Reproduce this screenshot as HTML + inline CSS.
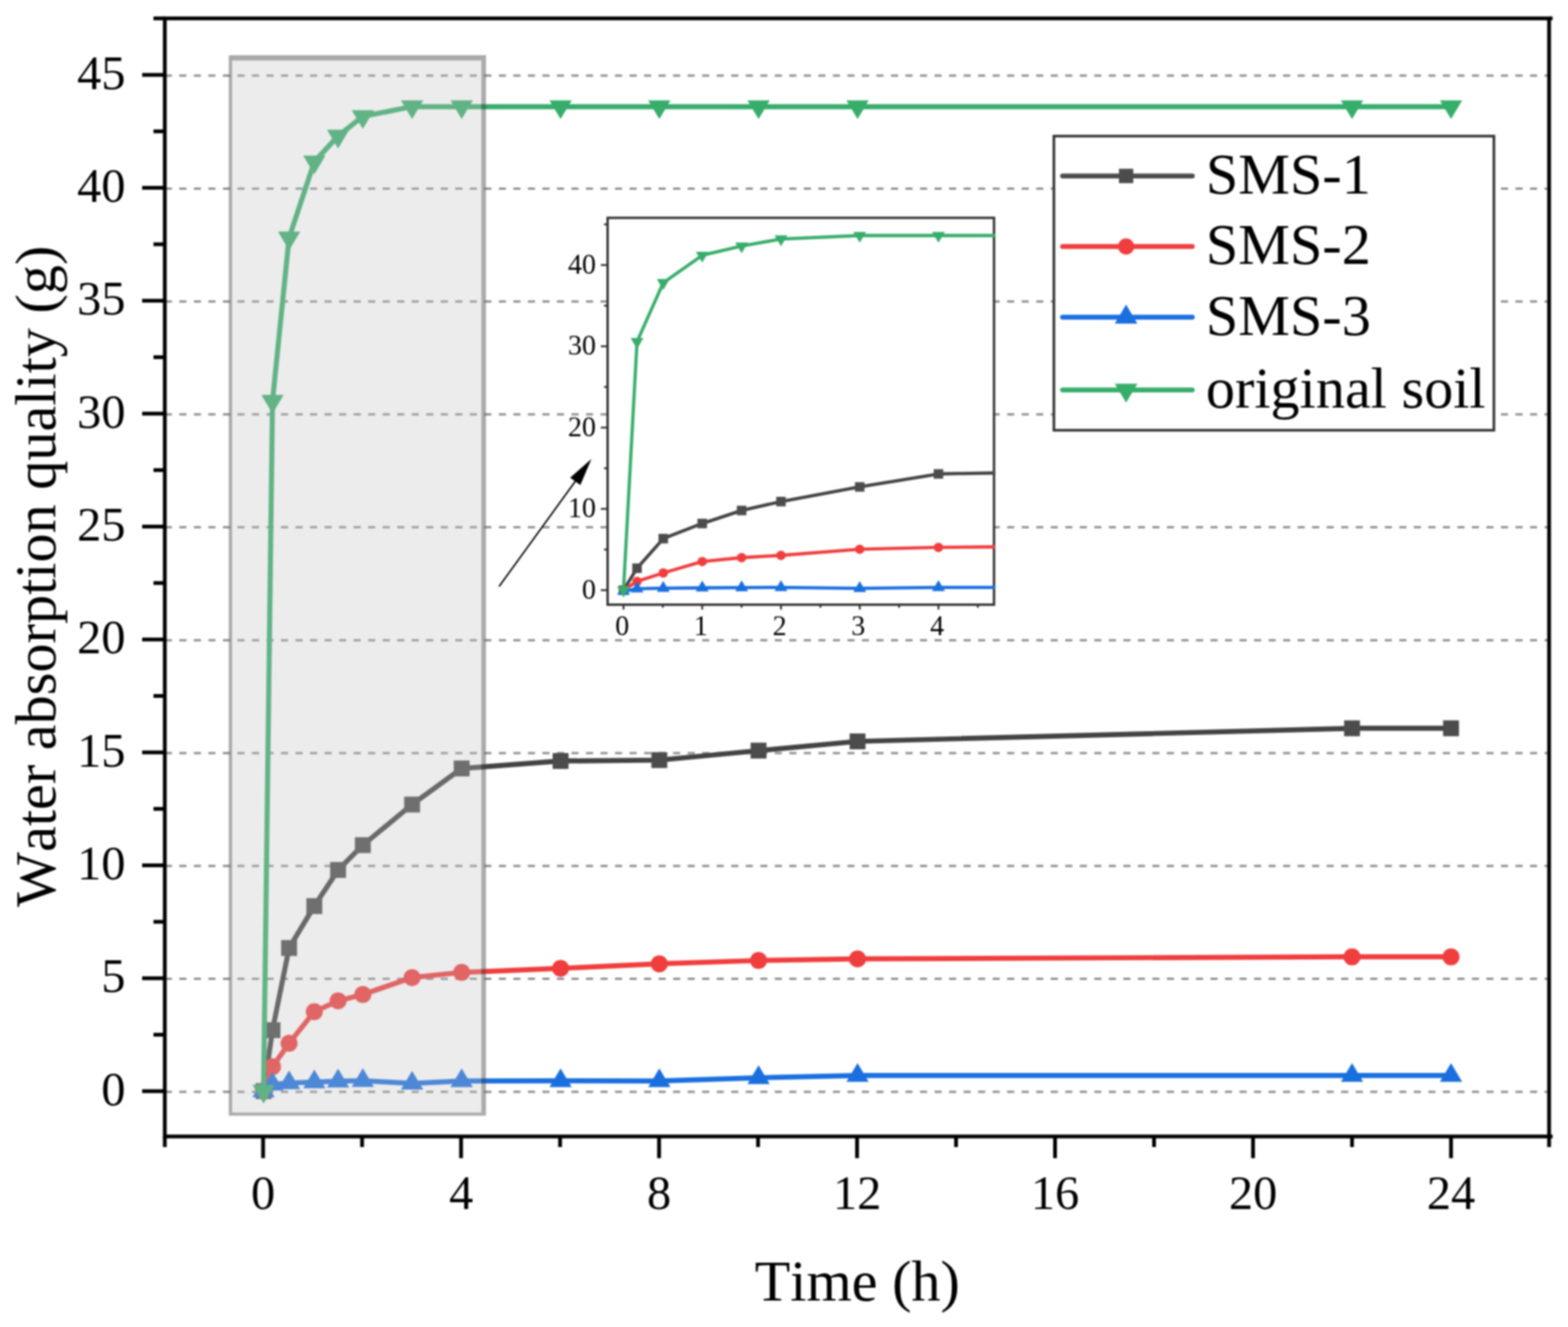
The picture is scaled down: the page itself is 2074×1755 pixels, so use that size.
<!DOCTYPE html>
<html lang="en"><head><meta charset="utf-8"><title>Water absorption quality</title>
<style>html,body{margin:0;padding:0;background:#fff;}body{width:2074px;height:1755px;overflow:hidden;}svg{display:block;filter:blur(0.9px);}text{font-family:"Liberation Serif",serif;fill:#000;font-kerning:none;}</style>
</head><body>
<svg width="2074" height="1755" viewBox="0 0 2074 1755">
<rect width="2074" height="1755" fill="#fff"/>
<defs><clipPath id="inclip"><rect x="803.7" y="288.1" width="512.65" height="511.6"/></clipPath></defs>
<g stroke="#8f8f8f" stroke-width="3" stroke-dasharray="9.4 9.81" fill="none">
<line x1="218" y1="1443.9" x2="2049" y2="1443.9"/>
<line x1="218" y1="1294.59" x2="2049" y2="1294.59"/>
<line x1="218" y1="1145.28" x2="2049" y2="1145.28"/>
<line x1="218" y1="995.97" x2="2049" y2="995.97"/>
<line x1="218" y1="846.66" x2="2049" y2="846.66"/>
<line x1="218" y1="697.35" x2="2049" y2="697.35"/>
<line x1="218" y1="548.04" x2="2049" y2="548.04"/>
<line x1="218" y1="398.73" x2="2049" y2="398.73"/>
<line x1="218" y1="249.42" x2="2049" y2="249.42"/>
<line x1="218" y1="100.11" x2="2049" y2="100.11"/>
</g>
<g>
<polyline fill="none" stroke="#434343" stroke-width="6.7" stroke-linejoin="round" stroke-linecap="round" points="348.65,1443 360.44,1362.43 382.37,1253.81 415.76,1198.31 447.19,1150.57 479.92,1117.74 545.06,1064.03 610.67,1016.29 741.47,1006.44 872.09,1005.25 1003.35,992.71 1134.29,980.48 1788.34,963.17 1919.28,963.17"/><rect x="338.15" y="1432.5" width="21" height="21" fill="#4c4c4c"/><rect x="349.94" y="1351.93" width="21" height="21" fill="#4c4c4c"/><rect x="371.87" y="1243.31" width="21" height="21" fill="#4c4c4c"/><rect x="405.26" y="1187.81" width="21" height="21" fill="#4c4c4c"/><rect x="436.69" y="1140.07" width="21" height="21" fill="#4c4c4c"/><rect x="469.42" y="1107.24" width="21" height="21" fill="#4c4c4c"/><rect x="534.56" y="1053.53" width="21" height="21" fill="#4c4c4c"/><rect x="600.17" y="1005.79" width="21" height="21" fill="#4c4c4c"/><rect x="730.97" y="995.94" width="21" height="21" fill="#4c4c4c"/><rect x="861.59" y="994.75" width="21" height="21" fill="#4c4c4c"/><rect x="992.85" y="982.21" width="21" height="21" fill="#4c4c4c"/><rect x="1123.79" y="969.98" width="21" height="21" fill="#4c4c4c"/><rect x="1777.84" y="952.67" width="21" height="21" fill="#4c4c4c"/><rect x="1908.78" y="952.67" width="21" height="21" fill="#4c4c4c"/>
<polyline fill="none" stroke="#f03d3d" stroke-width="6.7" stroke-linejoin="round" stroke-linecap="round" points="348.65,1443 360.44,1410.77 382.37,1379.74 415.76,1337.96 447.19,1323.64 479.92,1315.28 545.06,1292.9 610.67,1286.04 741.47,1280.67 872.09,1274.7 1003.35,1270.23 1134.29,1268.14 1788.34,1265.45 1919.28,1265.45"/><circle cx="348.65" cy="1443" r="11.25" fill="#f03d3d"/><circle cx="360.44" cy="1410.77" r="11.25" fill="#f03d3d"/><circle cx="382.37" cy="1379.74" r="11.25" fill="#f03d3d"/><circle cx="415.76" cy="1337.96" r="11.25" fill="#f03d3d"/><circle cx="447.19" cy="1323.64" r="11.25" fill="#f03d3d"/><circle cx="479.92" cy="1315.28" r="11.25" fill="#f03d3d"/><circle cx="545.06" cy="1292.9" r="11.25" fill="#f03d3d"/><circle cx="610.67" cy="1286.04" r="11.25" fill="#f03d3d"/><circle cx="741.47" cy="1280.67" r="11.25" fill="#f03d3d"/><circle cx="872.09" cy="1274.7" r="11.25" fill="#f03d3d"/><circle cx="1003.35" cy="1270.23" r="11.25" fill="#f03d3d"/><circle cx="1134.29" cy="1268.14" r="11.25" fill="#f03d3d"/><circle cx="1788.34" cy="1265.45" r="11.25" fill="#f03d3d"/><circle cx="1919.28" cy="1265.45" r="11.25" fill="#f03d3d"/>
<polyline fill="none" stroke="#1a6fdf" stroke-width="6.7" stroke-linejoin="round" stroke-linecap="round" points="348.65,1443 360.44,1434.05 382.37,1432.26 415.76,1431.06 447.19,1429.87 479.92,1429.27 545.06,1432.85 610.67,1429.57 741.47,1429.42 872.09,1429.57 1003.35,1425.39 1134.29,1422.41 1788.34,1422.41 1919.28,1422.41"/><polygon points="333.9,1451.26 363.4,1451.26 348.65,1426.48" fill="#1a6fdf"/><polygon points="345.69,1442.31 375.19,1442.31 360.44,1417.53" fill="#1a6fdf"/><polygon points="367.62,1440.52 397.12,1440.52 382.37,1415.74" fill="#1a6fdf"/><polygon points="401.01,1439.32 430.51,1439.32 415.76,1414.54" fill="#1a6fdf"/><polygon points="432.44,1438.13 461.94,1438.13 447.19,1413.35" fill="#1a6fdf"/><polygon points="465.17,1437.53 494.67,1437.53 479.92,1412.75" fill="#1a6fdf"/><polygon points="530.31,1441.11 559.81,1441.11 545.06,1416.33" fill="#1a6fdf"/><polygon points="595.92,1437.83 625.42,1437.83 610.67,1413.05" fill="#1a6fdf"/><polygon points="726.72,1437.68 756.22,1437.68 741.47,1412.9" fill="#1a6fdf"/><polygon points="857.34,1437.83 886.84,1437.83 872.09,1413.05" fill="#1a6fdf"/><polygon points="988.6,1433.65 1018.1,1433.65 1003.35,1408.87" fill="#1a6fdf"/><polygon points="1119.54,1430.67 1149.04,1430.67 1134.29,1405.89" fill="#1a6fdf"/><polygon points="1773.59,1430.67 1803.09,1430.67 1788.34,1405.89" fill="#1a6fdf"/><polygon points="1904.53,1430.67 1934.03,1430.67 1919.28,1405.89" fill="#1a6fdf"/>
<polyline fill="none" stroke="#37ad6b" stroke-width="6.7" stroke-linejoin="round" stroke-linecap="round" points="348.65,1443 360.44,530.49 382.37,314.45 415.76,213.89 447.19,179.87 479.92,153.91 545.06,141.08 610.67,141.08 741.47,141.08 872.09,141.08 1003.35,141.08 1134.29,141.08 1788.34,141.08 1919.28,141.08"/><polygon points="333.9,1434.74 363.4,1434.74 348.65,1459.52" fill="#37ad6b"/><polygon points="345.69,522.23 375.19,522.23 360.44,547.01" fill="#37ad6b"/><polygon points="367.62,306.19 397.12,306.19 382.37,330.97" fill="#37ad6b"/><polygon points="401.01,205.63 430.51,205.63 415.76,230.41" fill="#37ad6b"/><polygon points="432.44,171.61 461.94,171.61 447.19,196.39" fill="#37ad6b"/><polygon points="465.17,145.65 494.67,145.65 479.92,170.43" fill="#37ad6b"/><polygon points="530.31,132.82 559.81,132.82 545.06,157.6" fill="#37ad6b"/><polygon points="595.92,132.82 625.42,132.82 610.67,157.6" fill="#37ad6b"/><polygon points="726.72,132.82 756.22,132.82 741.47,157.6" fill="#37ad6b"/><polygon points="857.34,132.82 886.84,132.82 872.09,157.6" fill="#37ad6b"/><polygon points="988.6,132.82 1018.1,132.82 1003.35,157.6" fill="#37ad6b"/><polygon points="1119.54,132.82 1149.04,132.82 1134.29,157.6" fill="#37ad6b"/><polygon points="1773.59,132.82 1803.09,132.82 1788.34,157.6" fill="#37ad6b"/><polygon points="1904.53,132.82 1934.03,132.82 1919.28,157.6" fill="#37ad6b"/>
</g>
<g>
<rect x="307" y="80" width="329.7" height="1391.4" fill="rgb(193,193,193)" fill-opacity="0.305"/>
<rect x="302.6" y="73" width="340.2" height="7" fill="rgb(70,70,70)" fill-opacity="0.46"/>
<rect x="302.6" y="1471.4" width="340.2" height="4.1" fill="rgb(70,70,70)" fill-opacity="0.46"/>
<rect x="302.6" y="80" width="4.4" height="1391.4" fill="rgb(70,70,70)" fill-opacity="0.46"/>
<rect x="636.7" y="80" width="6.1" height="1391.4" fill="rgb(70,70,70)" fill-opacity="0.46"/>
</g>
<g stroke="#000" stroke-width="5" fill="none" stroke-linecap="butt">
<rect x="218" y="24.3" width="1831" height="1478.7"/>
<line x1="2049" y1="24.3" x2="2053.6" y2="24.3"/>
<line x1="2049" y1="1503" x2="2053.6" y2="1503"/>
<line x1="188" y1="1443.1" x2="218" y2="1443.1"/>
<line x1="188" y1="1293.76" x2="218" y2="1293.76"/>
<line x1="188" y1="1144.42" x2="218" y2="1144.42"/>
<line x1="188" y1="995.08" x2="218" y2="995.08"/>
<line x1="188" y1="845.74" x2="218" y2="845.74"/>
<line x1="188" y1="696.4" x2="218" y2="696.4"/>
<line x1="188" y1="547.06" x2="218" y2="547.06"/>
<line x1="188" y1="397.72" x2="218" y2="397.72"/>
<line x1="188" y1="248.38" x2="218" y2="248.38"/>
<line x1="188" y1="99.04" x2="218" y2="99.04"/>
<line x1="203" y1="1368.43" x2="218" y2="1368.43"/>
<line x1="203" y1="1219.09" x2="218" y2="1219.09"/>
<line x1="203" y1="1069.75" x2="218" y2="1069.75"/>
<line x1="203" y1="920.41" x2="218" y2="920.41"/>
<line x1="203" y1="771.07" x2="218" y2="771.07"/>
<line x1="203" y1="621.73" x2="218" y2="621.73"/>
<line x1="203" y1="472.39" x2="218" y2="472.39"/>
<line x1="203" y1="323.05" x2="218" y2="323.05"/>
<line x1="203" y1="173.71" x2="218" y2="173.71"/>
<line x1="203" y1="24.3" x2="218" y2="24.3"/>
<line x1="348" y1="1503" x2="348" y2="1531.7"/>
<line x1="609.88" y1="1503" x2="609.88" y2="1531.7"/>
<line x1="871.76" y1="1503" x2="871.76" y2="1531.7"/>
<line x1="1133.64" y1="1503" x2="1133.64" y2="1531.7"/>
<line x1="1395.52" y1="1503" x2="1395.52" y2="1531.7"/>
<line x1="1657.4" y1="1503" x2="1657.4" y2="1531.7"/>
<line x1="1919.28" y1="1503" x2="1919.28" y2="1531.7"/>
<line x1="218" y1="1503" x2="218" y2="1517"/>
<line x1="478.94" y1="1503" x2="478.94" y2="1517"/>
<line x1="740.82" y1="1503" x2="740.82" y2="1517"/>
<line x1="1002.7" y1="1503" x2="1002.7" y2="1517"/>
<line x1="1264.58" y1="1503" x2="1264.58" y2="1517"/>
<line x1="1526.46" y1="1503" x2="1526.46" y2="1517"/>
<line x1="1788.34" y1="1503" x2="1788.34" y2="1517"/>
<line x1="2049" y1="1503" x2="2049" y2="1517"/>
</g>
<g font-size="64" text-anchor="end">
<text x="166" y="1461.7">0</text>
<text x="166" y="1312.36">5</text>
<text x="166" y="1163.02">10</text>
<text x="166" y="1013.68">15</text>
<text x="166" y="864.34">20</text>
<text x="166" y="715">25</text>
<text x="166" y="565.66">30</text>
<text x="166" y="416.32">35</text>
<text x="166" y="266.98">40</text>
<text x="166" y="117.64">45</text>
</g>
<g font-size="64" text-anchor="middle">
<text x="348" y="1599.3">0</text>
<text x="609.88" y="1599.3">4</text>
<text x="871.76" y="1599.3">8</text>
<text x="1133.64" y="1599.3">12</text>
<text x="1395.52" y="1599.3">16</text>
<text x="1657.4" y="1599.3">20</text>
<text x="1919.28" y="1599.3">24</text>
</g>
<text font-size="77" text-anchor="middle" x="1134" y="1720">Time (h)</text>
<text font-size="77" text-anchor="middle" transform="translate(73.4 762.2) rotate(-90)">Water absorption quality (g)</text>
<rect x="1394" y="180" width="582" height="389" fill="#fff" stroke="#303030" stroke-width="3.4"/>
<line x1="1405.5" y1="232.7" x2="1577" y2="232.7" stroke="#4c4c4c" stroke-width="6.5" stroke-linecap="round"/>
<rect x="1480" y="223.2" width="19" height="19" fill="#4c4c4c"/>
<text font-size="77" x="1595" y="255.7">SMS-1</text>
<line x1="1405.5" y1="326" x2="1577" y2="326" stroke="#f03d3d" stroke-width="6.5" stroke-linecap="round"/>
<circle cx="1489.5" cy="326" r="10.75" fill="#f03d3d"/>
<text font-size="77" x="1595" y="349">SMS-2</text>
<line x1="1405.5" y1="419.5" x2="1577" y2="419.5" stroke="#1a6fdf" stroke-width="6.5" stroke-linecap="round"/>
<polygon points="1474.5,427.9 1504.5,427.9 1489.5,402.7" fill="#1a6fdf"/>
<text font-size="77" x="1595" y="442.5">SMS-3</text>
<line x1="1405.5" y1="515.8" x2="1577" y2="515.8" stroke="#37ad6b" stroke-width="6.5" stroke-linecap="round"/>
<polygon points="1474.5,507.4 1504.5,507.4 1489.5,532.6" fill="#37ad6b"/>
<text font-size="77" x="1595" y="538.8">original soil</text>
<rect x="803.7" y="288.1" width="511.1" height="511.6" fill="#fff"/>
<g stroke="#2e2e2e" stroke-width="3.1" fill="none">
<rect x="803.7" y="288.1" width="511.1" height="511.6"/>
</g>
<g stroke="#2e2e2e" stroke-width="2.4" fill="none">
<line x1="794.7" y1="780.5" x2="803.7" y2="780.5"/>
<line x1="794.7" y1="673" x2="803.7" y2="673"/>
<line x1="794.7" y1="565.5" x2="803.7" y2="565.5"/>
<line x1="794.7" y1="458" x2="803.7" y2="458"/>
<line x1="794.7" y1="350.5" x2="803.7" y2="350.5"/>
<line x1="798.9" y1="726.75" x2="803.7" y2="726.75"/>
<line x1="798.9" y1="619.25" x2="803.7" y2="619.25"/>
<line x1="798.9" y1="511.75" x2="803.7" y2="511.75"/>
<line x1="798.9" y1="404.25" x2="803.7" y2="404.25"/>
<line x1="798.9" y1="296.75" x2="803.7" y2="296.75"/>
<line x1="824.7" y1="799.7" x2="824.7" y2="806.2"/>
<line x1="928.85" y1="799.7" x2="928.85" y2="806.2"/>
<line x1="1033" y1="799.7" x2="1033" y2="806.2"/>
<line x1="1137.15" y1="799.7" x2="1137.15" y2="806.2"/>
<line x1="1241.3" y1="799.7" x2="1241.3" y2="806.2"/>
<line x1="876.78" y1="799.7" x2="876.78" y2="803.7"/>
<line x1="980.93" y1="799.7" x2="980.93" y2="803.7"/>
<line x1="1085.08" y1="799.7" x2="1085.08" y2="803.7"/>
<line x1="1189.23" y1="799.7" x2="1189.23" y2="803.7"/>
<line x1="1293.38" y1="799.7" x2="1293.38" y2="803.7"/>
</g>
<g clip-path="url(#inclip)">
<polyline fill="none" stroke="#434343" stroke-width="4.3" stroke-linejoin="round" stroke-linecap="round" points="824.7,780.5 842.61,751.48 877.3,712.35 928.85,692.35 980.93,675.15 1033,663.33 1137.15,643.98 1241.3,626.77 1449.6,623.23 1657.9,622.8 1866.2,618.28 2074.5,613.88 3116,607.64 3324.3,607.64"/><rect x="818.4" y="774.2" width="12.6" height="12.6" fill="#4c4c4c"/><rect x="836.31" y="745.18" width="12.6" height="12.6" fill="#4c4c4c"/><rect x="871" y="706.05" width="12.6" height="12.6" fill="#4c4c4c"/><rect x="922.55" y="686.05" width="12.6" height="12.6" fill="#4c4c4c"/><rect x="974.63" y="668.85" width="12.6" height="12.6" fill="#4c4c4c"/><rect x="1026.7" y="657.03" width="12.6" height="12.6" fill="#4c4c4c"/><rect x="1130.85" y="637.68" width="12.6" height="12.6" fill="#4c4c4c"/><rect x="1235" y="620.48" width="12.6" height="12.6" fill="#4c4c4c"/><rect x="1443.3" y="616.93" width="12.6" height="12.6" fill="#4c4c4c"/><rect x="1651.6" y="616.5" width="12.6" height="12.6" fill="#4c4c4c"/><rect x="1859.9" y="611.98" width="12.6" height="12.6" fill="#4c4c4c"/><rect x="2068.2" y="607.58" width="12.6" height="12.6" fill="#4c4c4c"/><rect x="3109.7" y="601.34" width="12.6" height="12.6" fill="#4c4c4c"/><rect x="3318" y="601.34" width="12.6" height="12.6" fill="#4c4c4c"/>
<polyline fill="none" stroke="#f03d3d" stroke-width="4.3" stroke-linejoin="round" stroke-linecap="round" points="824.7,780.5 842.61,768.89 877.3,757.71 928.85,742.66 980.93,737.5 1033,734.49 1137.15,726.43 1241.3,723.96 1449.6,722.02 1657.9,719.87 1866.2,718.26 2074.5,717.5 3116,716.54 3324.3,716.54"/><circle cx="824.7" cy="780.5" r="6.25" fill="#f03d3d"/><circle cx="842.61" cy="768.89" r="6.25" fill="#f03d3d"/><circle cx="877.3" cy="757.71" r="6.25" fill="#f03d3d"/><circle cx="928.85" cy="742.66" r="6.25" fill="#f03d3d"/><circle cx="980.93" cy="737.5" r="6.25" fill="#f03d3d"/><circle cx="1033" cy="734.49" r="6.25" fill="#f03d3d"/><circle cx="1137.15" cy="726.43" r="6.25" fill="#f03d3d"/><circle cx="1241.3" cy="723.96" r="6.25" fill="#f03d3d"/><circle cx="1449.6" cy="722.02" r="6.25" fill="#f03d3d"/><circle cx="1657.9" cy="719.87" r="6.25" fill="#f03d3d"/><circle cx="1866.2" cy="718.26" r="6.25" fill="#f03d3d"/><circle cx="2074.5" cy="717.5" r="6.25" fill="#f03d3d"/><circle cx="3116" cy="716.54" r="6.25" fill="#f03d3d"/><circle cx="3324.3" cy="716.54" r="6.25" fill="#f03d3d"/>
<polyline fill="none" stroke="#1a6fdf" stroke-width="4.3" stroke-linejoin="round" stroke-linecap="round" points="824.7,781.8 842.61,778.57 877.3,777.93 928.85,777.5 980.93,777.07 1033,776.85 1137.15,778.14 1241.3,776.96 1449.6,776.91 1657.9,776.96 1866.2,775.46 2074.5,774.38 3116,774.38 3324.3,774.38"/><polygon points="816.2,786.62 833.2,786.62 824.7,772.17" fill="#1a6fdf"/><polygon points="834.11,783.39 851.11,783.39 842.61,768.94" fill="#1a6fdf"/><polygon points="868.8,782.75 885.8,782.75 877.3,768.3" fill="#1a6fdf"/><polygon points="920.35,782.32 937.35,782.32 928.85,767.87" fill="#1a6fdf"/><polygon points="972.43,781.89 989.43,781.89 980.93,767.44" fill="#1a6fdf"/><polygon points="1024.5,781.67 1041.5,781.67 1033,767.22" fill="#1a6fdf"/><polygon points="1128.65,782.96 1145.65,782.96 1137.15,768.51" fill="#1a6fdf"/><polygon points="1232.8,781.78 1249.8,781.78 1241.3,767.33" fill="#1a6fdf"/><polygon points="1441.1,781.73 1458.1,781.73 1449.6,767.28" fill="#1a6fdf"/><polygon points="1649.4,781.78 1666.4,781.78 1657.9,767.33" fill="#1a6fdf"/><polygon points="1857.7,780.27 1874.7,780.27 1866.2,765.82" fill="#1a6fdf"/><polygon points="2066,779.2 2083,779.2 2074.5,764.75" fill="#1a6fdf"/><polygon points="3107.5,779.2 3124.5,779.2 3116,764.75" fill="#1a6fdf"/><polygon points="3315.8,779.2 3332.8,779.2 3324.3,764.75" fill="#1a6fdf"/>
<polyline fill="none" stroke="#37ad6b" stroke-width="4.3" stroke-linejoin="round" stroke-linecap="round" points="824.7,780.5 842.61,451.77 877.3,373.94 928.85,337.71 980.93,325.45 1033,316.1 1137.15,311.48 1241.3,311.48 1449.6,311.48 1657.9,311.48 1866.2,311.48 2074.5,311.48 3116,311.48 3324.3,311.48"/><polygon points="816.2,775.68 833.2,775.68 824.7,790.13" fill="#37ad6b"/><polygon points="834.11,446.95 851.11,446.95 842.61,461.4" fill="#37ad6b"/><polygon points="868.8,369.12 885.8,369.12 877.3,383.57" fill="#37ad6b"/><polygon points="920.35,332.89 937.35,332.89 928.85,347.34" fill="#37ad6b"/><polygon points="972.43,320.64 989.43,320.64 980.93,335.09" fill="#37ad6b"/><polygon points="1024.5,311.28 1041.5,311.28 1033,325.73" fill="#37ad6b"/><polygon points="1128.65,306.66 1145.65,306.66 1137.15,321.11" fill="#37ad6b"/><polygon points="1232.8,306.66 1249.8,306.66 1241.3,321.11" fill="#37ad6b"/><polygon points="1441.1,306.66 1458.1,306.66 1449.6,321.11" fill="#37ad6b"/><polygon points="1649.4,306.66 1666.4,306.66 1657.9,321.11" fill="#37ad6b"/><polygon points="1857.7,306.66 1874.7,306.66 1866.2,321.11" fill="#37ad6b"/><polygon points="2066,306.66 2083,306.66 2074.5,321.11" fill="#37ad6b"/><polygon points="3107.5,306.66 3124.5,306.66 3116,321.11" fill="#37ad6b"/><polygon points="3315.8,306.66 3332.8,306.66 3324.3,321.11" fill="#37ad6b"/>
</g>
<g font-size="37" text-anchor="end">
<text x="788.3" y="791.9">0</text>
<text x="788.3" y="684.4">10</text>
<text x="788.3" y="576.9">20</text>
<text x="788.3" y="469.4">30</text>
<text x="788.3" y="361.9">40</text>
</g>
<g font-size="37" text-anchor="middle">
<text x="822.9" y="839.6">0</text>
<text x="927.05" y="839.6">1</text>
<text x="1031.2" y="839.6">2</text>
<text x="1135.35" y="839.6">3</text>
<text x="1239.5" y="839.6">4</text>
</g>
<line x1="660.7" y1="774.9" x2="760.89" y2="636.56" stroke="#000" stroke-width="2.0" stroke-linecap="round"/>
<polygon fill="#000" points="782.3,607 767.61,641.43 754.17,631.69"/>
</svg>
</body></html>
